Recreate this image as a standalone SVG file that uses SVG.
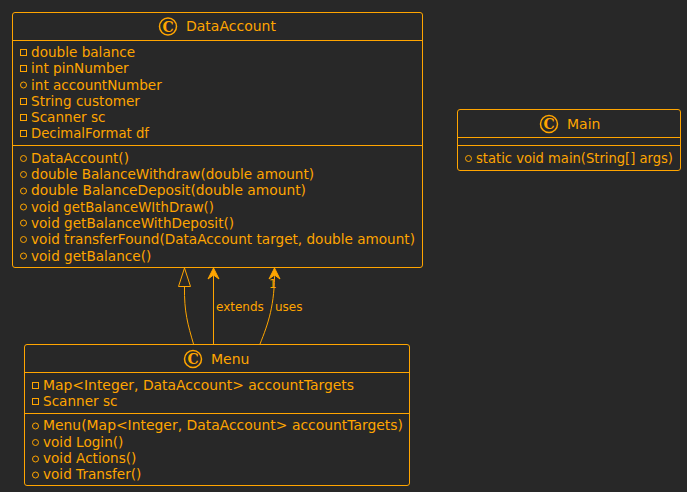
<svg xmlns="http://www.w3.org/2000/svg" width="687" height="492" viewBox="0 0 687 492">
<style>
.box{fill:#282828;stroke:#FFA500;stroke-width:1}
.sep{stroke:#FFA500;stroke-width:1}
.title{font-family:"DejaVu Sans",sans-serif;font-size:14px;fill:#FFA500}
.m{font-family:"DejaVu Sans",sans-serif;font-size:13.6px;fill:#FFA500}
.lbl{font-family:"DejaVu Sans",sans-serif;font-size:12px;fill:#FFA500}
.ic{fill:none;stroke:#FFA500;stroke-width:1.5}
.ict{font-family:"DejaVu Serif",serif;font-size:14px;font-weight:bold;fill:#FFA500;text-anchor:middle}
.priv{fill:none;stroke:#FFA500;stroke-width:1}
.pub{fill:none;stroke:#FFA500;stroke-width:1}
.edge{fill:none;stroke:#FFA500;stroke-width:1}
</style>
<rect width="687" height="492" fill="#282828"/>
<g id="DataAccount">
<rect class="box" x="12.5" y="12.5" width="410" height="255" rx="2.5"/>
<line class="sep" x1="12.5" y1="40.5" x2="422.5" y2="40.5"/>
<line class="sep" x1="12.5" y1="145.5" x2="422.5" y2="145.5"/>
<circle class="ic" cx="168" cy="26.5" r="8.5"/>
<text class="ict" x="168" y="31.5">C</text>
<text class="title" x="186" y="31">DataAccount</text>
<rect class="priv" x="20.5" y="49.5" width="6" height="6"/>
<text class="m" x="31" y="57">double balance</text>
<rect class="priv" x="20.5" y="65.5" width="6" height="6"/>
<text class="m" x="31" y="73">int pinNumber</text>
<circle class="pub" cx="23.5" cy="85" r="3"/>
<text class="m" x="31" y="90">int accountNumber</text>
<rect class="priv" x="20.5" y="98.5" width="6" height="6"/>
<text class="m" x="31" y="106">String customer</text>
<rect class="priv" x="20.5" y="114.5" width="6" height="6"/>
<text class="m" x="31" y="122">Scanner sc</text>
<rect class="priv" x="20.5" y="130.5" width="6" height="6"/>
<text class="m" x="31" y="138" textLength="118" lengthAdjust="spacingAndGlyphs">DecimalFormat df</text>
<circle class="pub" cx="23.5" cy="158.5" r="3"/>
<text class="m" x="31" y="163">DataAccount()</text>
<circle class="pub" cx="23.5" cy="174.5" r="3"/>
<text class="m" x="31" y="179">double BalanceWithdraw(double amount)</text>
<circle class="pub" cx="23.5" cy="191" r="3"/>
<text class="m" x="31" y="195" textLength="275" lengthAdjust="spacingAndGlyphs">double BalanceDeposit(double amount)</text>
<circle class="pub" cx="23.5" cy="207" r="3"/>
<text class="m" x="31" y="211.5" textLength="183" lengthAdjust="spacingAndGlyphs">void getBalanceWIthDraw()</text>
<circle class="pub" cx="23.5" cy="223" r="3"/>
<text class="m" x="31" y="227.5">void getBalanceWithDeposit()</text>
<circle class="pub" cx="23.5" cy="239.5" r="3"/>
<text class="m" x="31" y="244" textLength="384" lengthAdjust="spacingAndGlyphs">void transferFound(DataAccount target, double amount)</text>
<circle class="pub" cx="23.5" cy="256" r="3"/>
<text class="m" x="31" y="260.5">void getBalance()</text>
</g>
<g id="Main">
<rect class="box" x="457.5" y="109.5" width="223" height="61" rx="2.5"/>
<line class="sep" x1="457.5" y1="137.5" x2="680.5" y2="137.5"/>
<line class="sep" x1="457.5" y1="145.5" x2="680.5" y2="145.5"/>
<circle class="ic" cx="549" cy="124" r="8.5"/>
<text class="ict" x="549" y="129">C</text>
<text class="title" x="567" y="129">Main</text>
<circle class="pub" cx="468.5" cy="158.5" r="3"/>
<text class="m" x="476" y="163" textLength="197" lengthAdjust="spacingAndGlyphs">static void main(String[] args)</text>
</g>
<g id="Menu">
<rect class="box" x="24.5" y="344.5" width="385" height="141" rx="2.5"/>
<line class="sep" x1="24.5" y1="372.5" x2="409.5" y2="372.5"/>
<line class="sep" x1="24.5" y1="413.5" x2="409.5" y2="413.5"/>
<circle class="ic" cx="193" cy="359" r="8.5"/>
<text class="ict" x="193" y="364">C</text>
<text class="title" x="211" y="364">Menu</text>
<rect class="priv" x="32.5" y="382.5" width="6" height="6"/>
<text class="m" x="43" y="390" textLength="311" lengthAdjust="spacingAndGlyphs">Map&lt;Integer, DataAccount&gt; accountTargets</text>
<rect class="priv" x="32.5" y="398.5" width="6" height="6"/>
<text class="m" x="43" y="406">Scanner sc</text>
<circle class="pub" cx="35.5" cy="426" r="3"/>
<text class="m" x="43" y="430" textLength="360" lengthAdjust="spacingAndGlyphs">Menu(Map&lt;Integer, DataAccount&gt; accountTargets)</text>
<circle class="pub" cx="35.5" cy="442.5" r="3"/>
<text class="m" x="43" y="447">void Login()</text>
<circle class="pub" cx="35.5" cy="459" r="3"/>
<text class="m" x="43" y="463">void Actions()</text>
<circle class="pub" cx="35.5" cy="475" r="3"/>
<text class="m" x="43" y="479">void Transfer()</text>
</g>
<g id="connectors">
<path class="edge" d="M193.5,344 C188,325 184,312 184.5,286.5"/>
<polygon class="edge" points="184.5,268 178.5,286.5 190.5,286.5"/>
<line class="edge" x1="213.5" y1="344" x2="213.5" y2="270"/>
<polygon points="213.5,268 208,279 213.5,275 219,279" fill="#FFA500" stroke="#FFA500" stroke-width="1"/>
<text class="lbl" x="216" y="311">extends</text>
<path class="edge" d="M260,344 C268,324 275,305 274.5,270"/>
<polygon points="274.5,268 269,279 274.5,275 280,279" fill="#FFA500" stroke="#FFA500" stroke-width="1"/>
<text class="lbl" x="269" y="288">1</text>
<text class="lbl" x="275" y="311">uses</text>
</g>
</svg>
